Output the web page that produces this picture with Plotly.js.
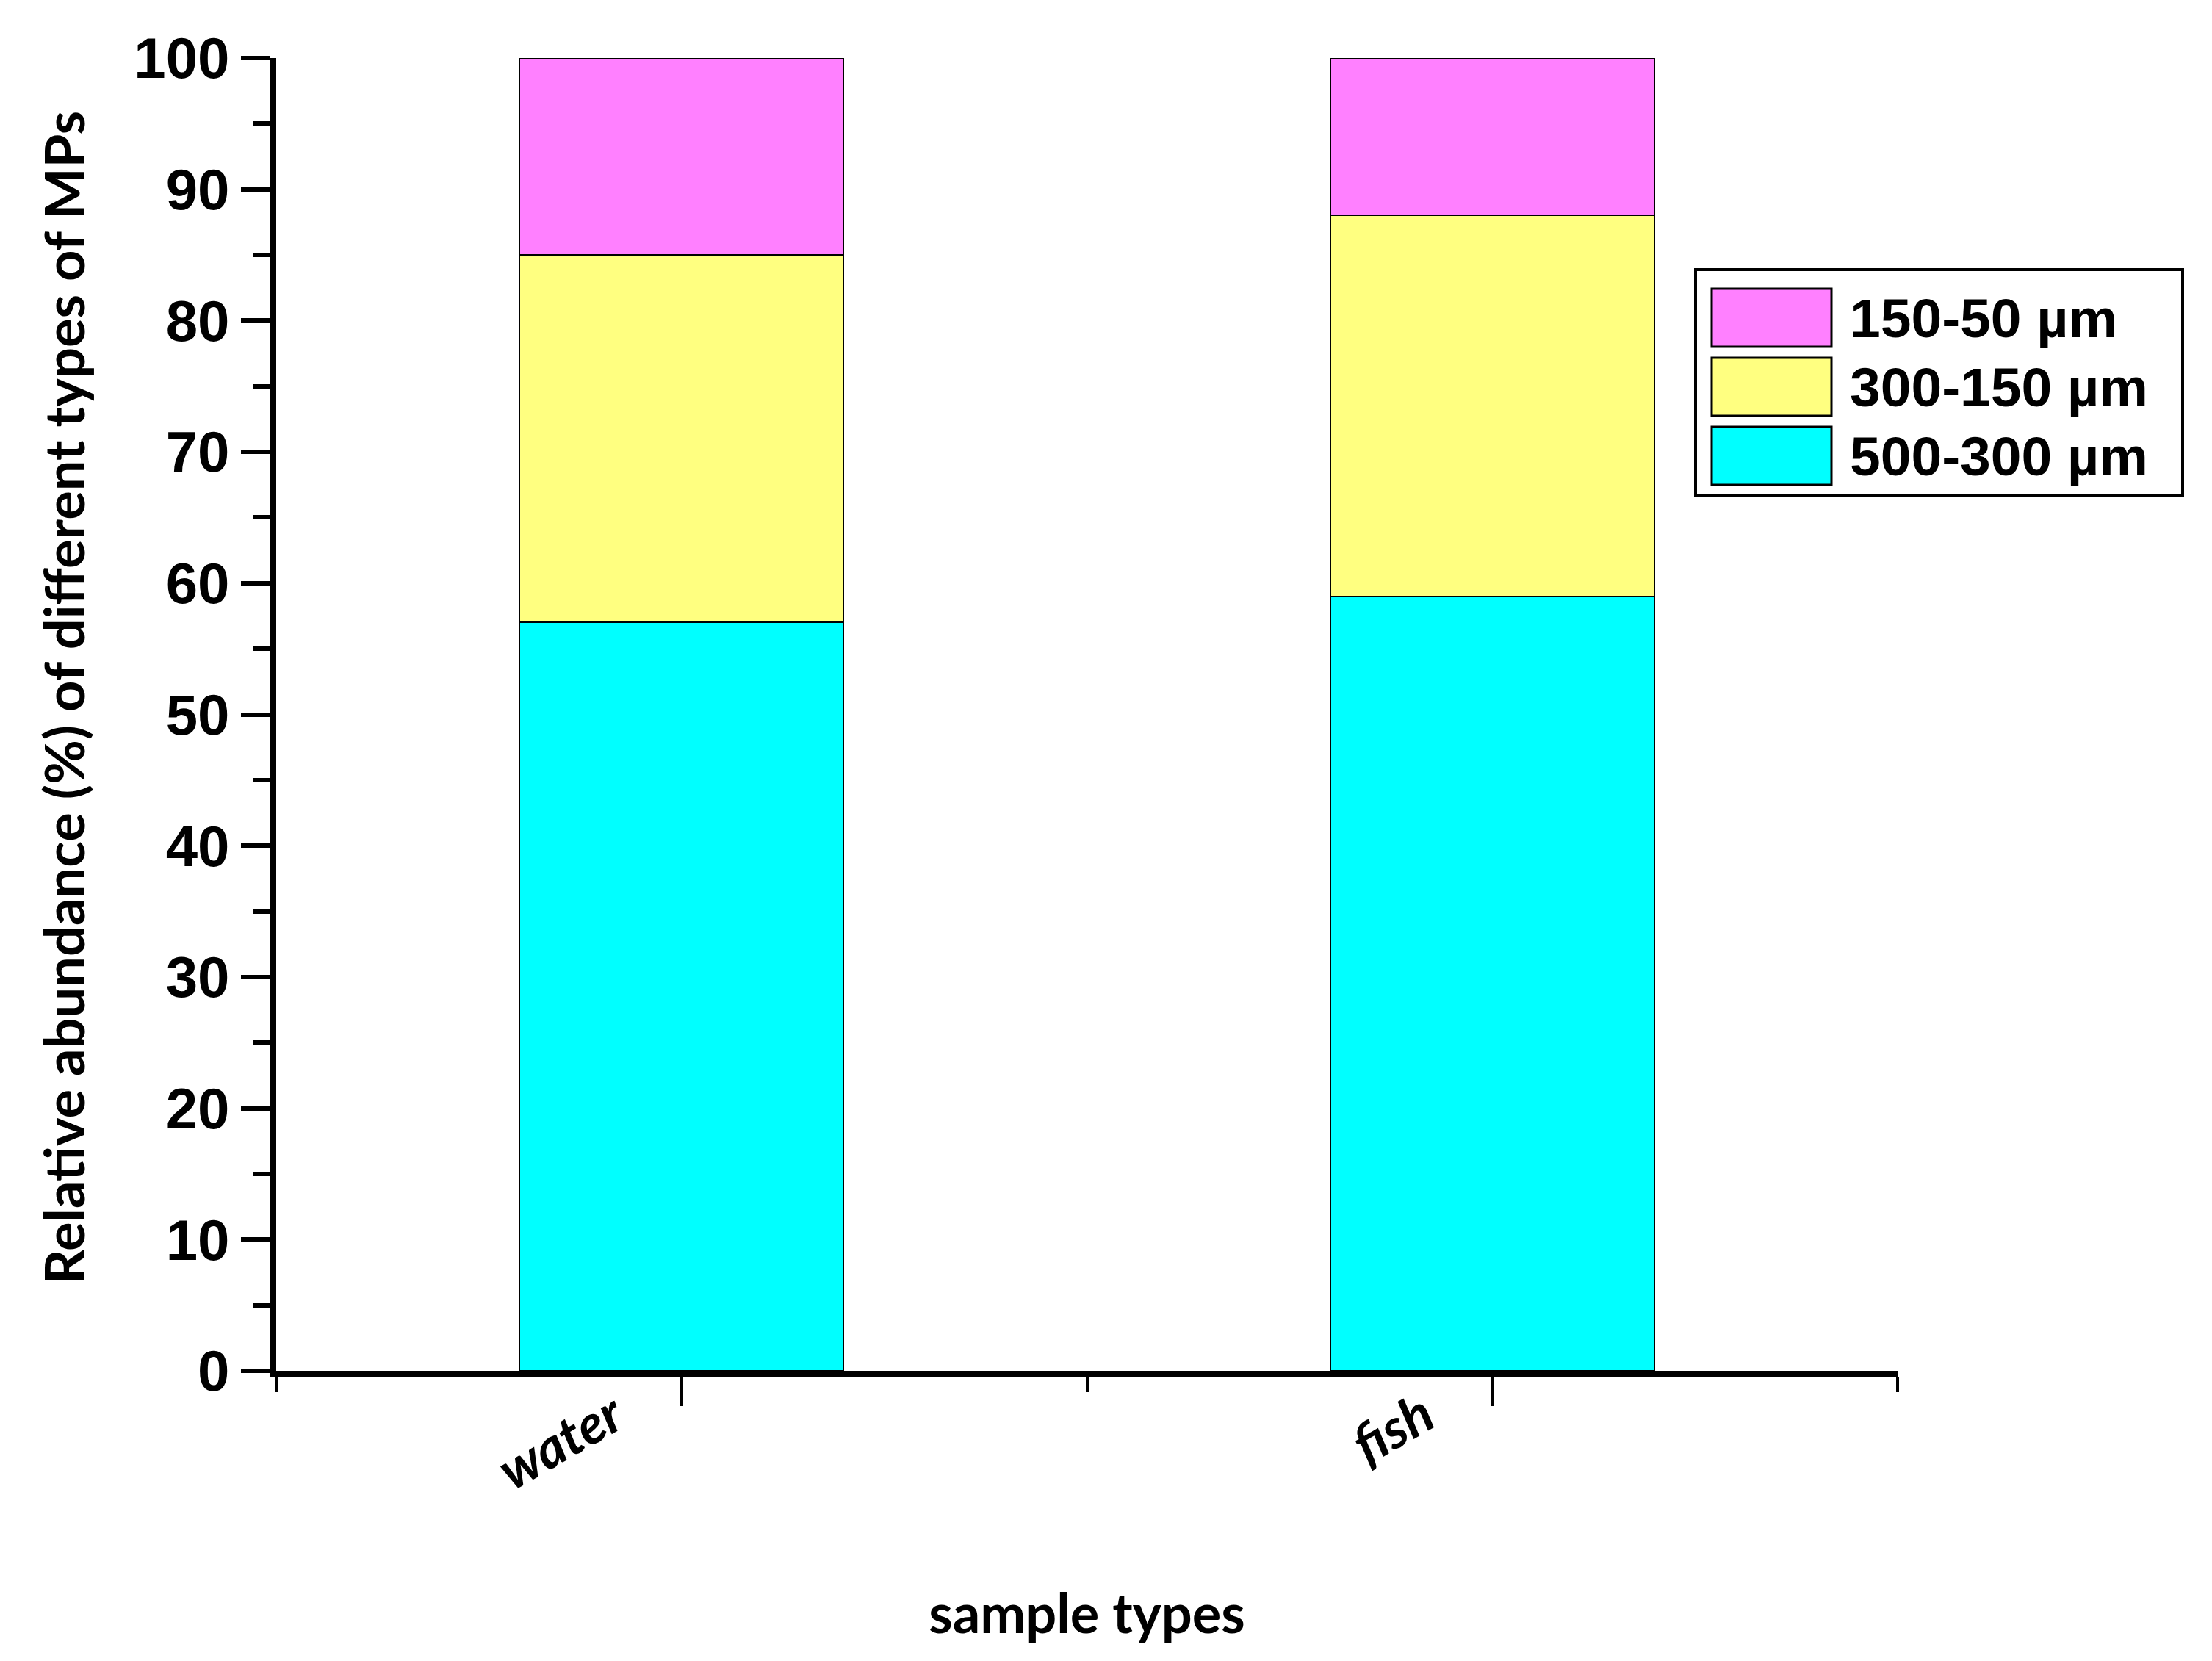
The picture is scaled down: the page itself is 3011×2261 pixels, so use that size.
<!DOCTYPE html>
<html>
<head>
<meta charset="utf-8">
<script src="https://cdn.plot.ly/plotly-3.0.1.min.js"></script>
<style>
  html, body { margin: 0; padding: 0; background: #fff; }
  #chart { width: 3011px; height: 2261px; }
</style>
</head>
<body>
<div id="chart"></div>
<script>
// sample types on the x axis
const categories = ['water', 'fish']

// stacked size fractions, bottom to top (percent)
const seriesNames = ['500-300 µm', '300-150 µm', '150-50 µm']
const size500to300 = [57, 59]
const size300to150 = [28, 29]
const size150to50 = [15, 12]

const seriesColors = ['#00FFFF', '#FFFF80', '#FF80FF']

const W = 3011
const H = 2261
const margin = { l: 376, r: 428, t: 79, b: 395 }
const plotW = W - margin.l - margin.r
const plotH = H - margin.t - margin.b

// pixel -> paper helpers, used for the hand-drawn legend and y title
const px = x => (x - margin.l) / plotW
const py = y => (H - margin.b - y) / plotH

const xIdx = categories.map((c, i) => i)
const values = [size500to300, size300to150, size150to50]

const traces = values.map((v, i) => ({
  type: 'bar',
  name: seriesNames[i],
  x: xIdx,
  y: v,
  width: 0.4,
  marker: { color: seriesColors[i], line: { color: '#000', width: 2 } },
  showlegend: false
}))

const tickFont = { family: 'Liberation Sans, Arial, sans-serif', size: 78, color: '#000', weight: 'bold' }
const legendFont = { family: 'Liberation Sans, Arial, sans-serif', size: 75, color: '#000', weight: 'bold' }
const titleFont = { family: 'Lato, Open Sans, sans-serif', size: 74, color: '#000', weight: 'bold' }

// legend box built from the series names/colours, top entry = top of the stack
const shapes = [{
  type: 'rect', xref: 'paper', yref: 'paper',
  x0: px(2308), x1: px(2971), y0: py(675), y1: py(367),
  line: { color: '#000', width: 4 }, fillcolor: '#fff'
}]
const annotations = []
const rowTop = 393
const rowH = 79
const rowPitch = 94
seriesNames.slice().reverse().forEach((name, k) => {
  const color = seriesColors[seriesNames.length - 1 - k]
  const top = rowTop + k * rowPitch
  shapes.push({
    type: 'rect', xref: 'paper', yref: 'paper',
    x0: px(2330), x1: px(2493), y0: py(top + rowH), y1: py(top),
    line: { color: '#000', width: 3 }, fillcolor: color
  })
  annotations.push({
    xref: 'paper', yref: 'paper', x: px(2516), y: py(top + rowH / 2),
    xanchor: 'left', yanchor: 'middle', showarrow: false,
    text: name, font: legendFont
  })
})

// y title sits a little above the plot centre in the original
annotations.push({
  xref: 'paper', yref: 'paper', x: px(86), y: py(950),
  xanchor: 'center', yanchor: 'middle', showarrow: false, textangle: -90,
  text: 'Relative abundance (%) of different types of MPs', font: titleFont
})

const layout = {
  width: W,
  height: H,
  margin: margin,
  barmode: 'stack',
  paper_bgcolor: '#fff',
  plot_bgcolor: '#fff',
  showlegend: false,
  xaxis: {
    range: [-0.5, 1.5],
    tickvals: xIdx,
    ticktext: categories,
    tickangle: -30,
    ticklabelshift: -92,
    ticklabelstandoff: -58,
    ticks: 'outside',
    ticklen: 40,
    tickwidth: 4,
    tickcolor: '#000',
    showline: true,
    linewidth: 8,
    linecolor: '#000',
    showgrid: false,
    zeroline: false,
    tickfont: { family: 'Lato, Open Sans, sans-serif', size: 74, color: '#000', weight: 'bold', style: 'italic' },
    minor: { tick0: -0.5, dtick: 1, ticks: 'outside', ticklen: 21, tickwidth: 4, tickcolor: '#000' },
    title: { text: 'sample types', font: titleFont, standoff: 131 }
  },
  yaxis: {
    range: [0, 100],
    dtick: 10,
    ticks: 'outside',
    ticklen: 40,
    tickwidth: 6,
    tickcolor: '#000',
    showline: true,
    linewidth: 8,
    linecolor: '#000',
    showgrid: false,
    zeroline: false,
    tickfont: tickFont,
    minor: { dtick: 5, ticks: 'outside', ticklen: 23, tickwidth: 6, tickcolor: '#000' }
  },
  shapes: shapes,
  annotations: annotations
}

Plotly.newPlot('chart', traces, layout, { staticPlot: true })
</script>
</body>
</html>
